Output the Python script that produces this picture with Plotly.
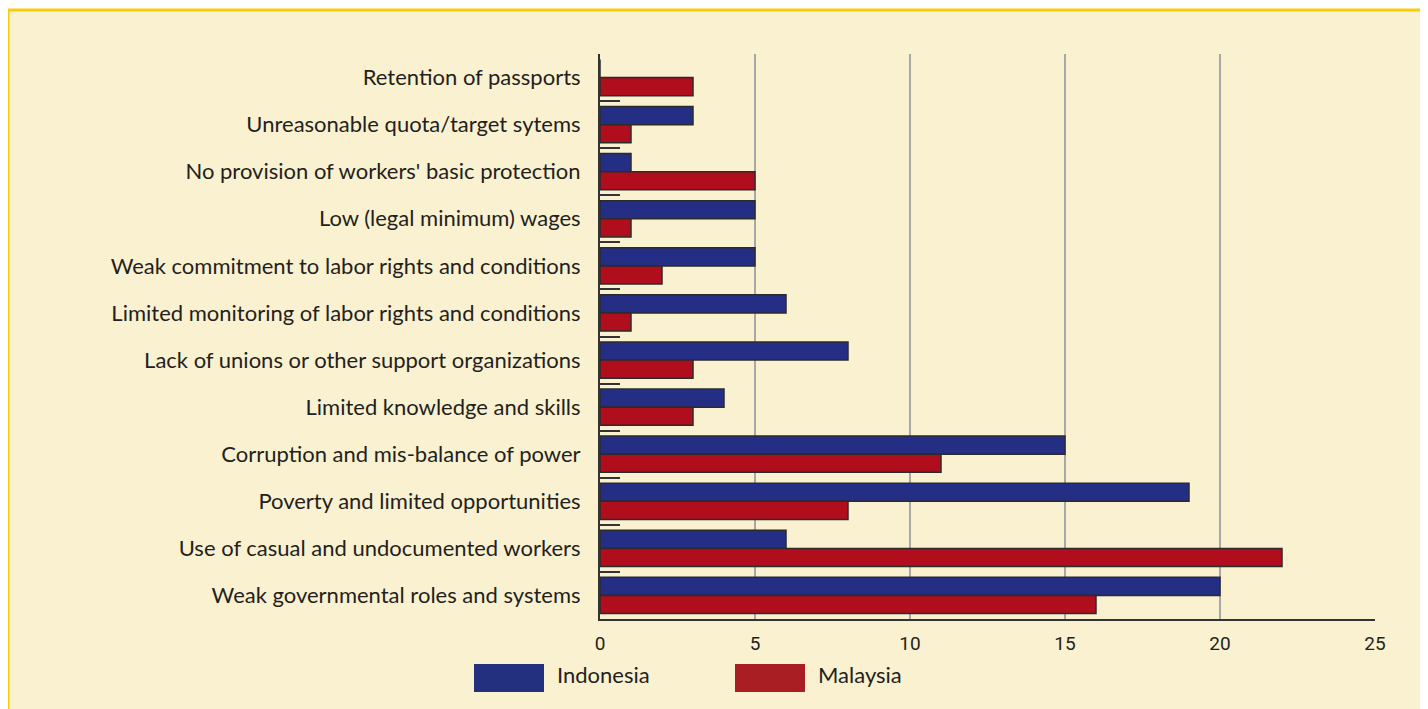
import plotly.graph_objects as go

categories = [
    "Retention of passports",
    "Unreasonable quota/target sytems",
    "No provision of workers' basic protection",
    "Low (legal minimum) wages",
    "Weak commitment to labor rights and conditions",
    "Limited monitoring of labor rights and conditions",
    "Lack of unions or other support organizations",
    "Limited knowledge and skills",
    "Corruption and mis-balance of power",
    "Poverty and limited opportunities",
    "Use of casual and undocumented workers",
    "Weak governmental roles and systems",
]
indonesia = [0, 3, 1, 5, 5, 6, 8, 4, 15, 19, 6, 20]
malaysia = [3, 1, 5, 1, 2, 1, 3, 3, 11, 8, 22, 16]
series_names = ["Indonesia", "Malaysia"]
x_ticks = [0, 5, 10, 15, 20, 25]

BLUE = "#232e84"
RED = "#b10e1d"
CREAM = "#faf1d0"
TEXT = "#231f20"

# page is offset by the 8px body margin
W, H = 1420, 701
L, R, T, B = 592, 53, 46, 90
PW = W - L - R
PH = H - T - B

fig = go.Figure()
fig.add_trace(go.Bar(y=categories, x=indonesia, orientation="h", name=series_names[0],
                     marker=dict(color=BLUE, line=dict(color="#2b2b2b", width=1.5))))
fig.add_trace(go.Bar(y=categories, x=malaysia, orientation="h", name=series_names[1],
                     marker=dict(color=RED, line=dict(color="#2b2b2b", width=1.5))))

fig.update_layout(
    width=W, height=H,
    paper_bgcolor="white", plot_bgcolor=CREAM,
    margin=dict(l=L, r=R, t=T, b=B),
    barmode="group", bargap=0.23, bargroupgap=0.0,
    showlegend=False,
    font=dict(family="Lato", color=TEXT),
)
fig.update_xaxes(
    range=[0, 25], tickvals=x_ticks, ticktext=[str(v) for v in x_ticks],
    showgrid=True, gridcolor="#a8a8a8", gridwidth=1.5,
    showline=True, linecolor="#333", linewidth=2,
    zeroline=False, ticks="",
    tickfont=dict(family="Roboto", size=19, color=TEXT),
    ticklabelstandoff=6,
)
fig.update_yaxes(
    type="category", autorange="reversed",
    showline=True, linecolor="#333", linewidth=2,
    showgrid=False, ticks="inside", tickson="boundaries", ticklen=20,
    tickcolor="#333", tickwidth=1.5,
    tickfont=dict(family="Lato", size=22, color=TEXT),
    ticklabelstandoff=13,
)

def px_x(p):
    return (p - L) / PW

def px_y(p):
    return 1 - (p - T) / PH

# Frame / background panel
fig.add_shape(type="rect", xref="paper", yref="paper", layer="below",
              x0=px_x(0), x1=px_x(1414), y0=px_y(H + 10), y1=px_y(2),
              fillcolor=CREAM, line=dict(color="#f4cd0c", width=3))

# Legend swatches and labels
legend_items = [(series_names[0], "#22307f", 466), (series_names[1], "#a81e22", 727)]
for name, col, px in legend_items:
    fig.add_shape(type="rect", xref="paper", yref="paper", x0=px_x(px), x1=px_x(px + 70),
                  y0=px_y(684), y1=px_y(656), fillcolor=col, line=dict(width=0))
    fig.add_annotation(xref="paper", yref="paper", x=px_x(px + 81), y=px_y(666),
                       text=name, showarrow=False, xanchor="left", yanchor="middle",
                       font=dict(family="Lato", size=22, color=TEXT))

fig.write_html("out.html")
